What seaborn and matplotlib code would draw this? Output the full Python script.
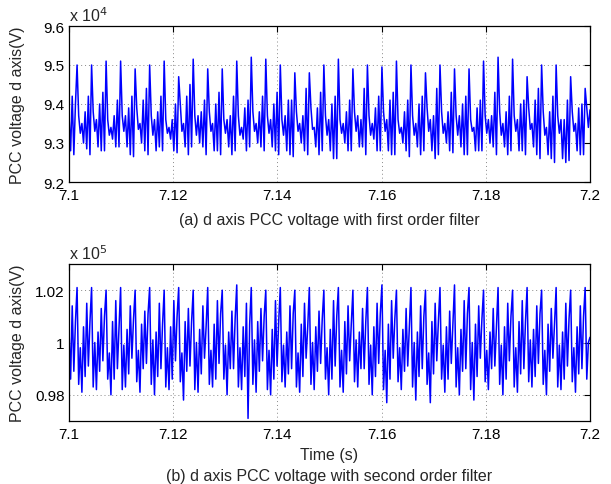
import numpy as np
import matplotlib
matplotlib.use("Agg")
import matplotlib.pyplot as plt
import seaborn as sns
from matplotlib.ticker import FuncFormatter, FixedLocator

# ---------------- data ----------------
# top panel: d-axis PCC voltage, first order filter (units of 1e4 V)
# each list holds one value per 360 Hz ripple cycle, in the order the
# waveform visits them within the cycle
top_head   = [9.37, 9.28, 9.42, 9.27, 9.40]
top_peak   = [9.50, 9.50, 9.51, 9.51, 9.49, 9.50, 9.51, 9.47, 9.515, 9.49, 9.49, 9.51,
              9.52, 9.515, 9.50, 9.48, 9.48, 9.50, 9.515, 9.49, 9.50, 9.495, 9.51, 9.50,
              9.48, 9.50, 9.49, 9.49, 9.51, 9.52, 9.515, 9.47, 9.50, 9.50, 9.47, 9.44]
top_fall   = [9.37, 9.38, 9.36, 9.37, 9.39, 9.37, 9.36, 9.40, 9.37, 9.38, 9.36, 9.37,
              9.38, 9.37, 9.36, 9.38, 9.39, 9.37, 9.36, 9.38, 9.37, 9.38, 9.36, 9.37,
              9.39, 9.38, 9.37, 9.36, 9.37, 9.38, 9.37, 9.39, 9.38, 9.37, 9.38, 9.39]
top_valley = [9.325, 9.33, 9.32, 9.33, 9.335, 9.32, 9.325, 9.33, 9.32, 9.33, 9.325, 9.32,
              9.33, 9.325, 9.32, 9.33, 9.335, 9.32, 9.325, 9.33, 9.32, 9.33, 9.325, 9.32,
              9.33, 9.325, 9.32, 9.33, 9.325, 9.32, 9.33, 9.335, 9.32, 9.325, 9.33, 9.34]
top_bump   = [9.35, 9.36, 9.34, 9.37, 9.35, 9.36, 9.34, 9.35, 9.37, 9.35, 9.36, 9.34,
              9.35, 9.36, 9.37, 9.35, 9.34, 9.36, 9.35, 9.37, 9.35, 9.36, 9.34, 9.35,
              9.36, 9.35, 9.37, 9.34, 9.36, 9.35, 9.36, 9.35, 9.34, 9.36, 9.35, 9.385]
top_dipA   = [9.30, 9.29, 9.31, 9.29, 9.30, 9.28, 9.31, 9.29, 9.30, 9.28, 9.29, 9.31,
              9.30, 9.29, 9.28, 9.30, 9.29, 9.28, 9.30, 9.29, 9.31, 9.28, 9.30, 9.29,
              9.28, 9.30, 9.29, 9.28, 9.30, 9.29, 9.28, 9.29, 9.27, 9.26, 9.28, 9.30]
top_riseA  = [9.38, 9.40, 9.37, 9.39, 9.41, 9.38, 9.36, 9.42, 9.38, 9.40, 9.37, 9.39,
              9.38, 9.40, 9.41, 9.37, 9.39, 9.40, 9.38, 9.36, 9.39, 9.41, 9.38, 9.40,
              9.37, 9.38, 9.40, 9.39, 9.37, 9.38, 9.40, 9.41, 9.38, 9.36, 9.39, 9.38]
top_dipB   = [9.285, 9.28, 9.29, 9.27, 9.28, 9.29, 9.28, 9.27, 9.29, 9.28, 9.27, 9.28,
              9.29, 9.28, 9.27, 9.28, 9.27, 9.26, 9.28, 9.29, 9.28, 9.27, 9.28, 9.27,
              9.26, 9.28, 9.27, 9.28, 9.29, 9.27, 9.28, 9.27, 9.26, 9.25, 9.27, 9.28]
top_riseB  = [9.42, 9.43, 9.41, 9.42, 9.44, 9.42, 9.40, 9.45, 9.41, 9.43, 9.42, 9.41,
              9.42, 9.43, 9.41, 9.44, 9.43, 9.42, 9.41, 9.44, 9.42, 9.43, 9.41, 9.42,
              9.44, 9.43, 9.42, 9.41, 9.43, 9.42, 9.41, 9.44, 9.42, 9.41, 9.40, 9.42]
top_dipC   = [9.27, 9.28, 9.29, 9.265, 9.27, 9.28, 9.275, 9.29, 9.27, 9.27, 9.28, 9.29,
              9.28, 9.27, 9.265, 9.27, 9.28, 9.26, 9.28, 9.27, 9.28, 9.27, 9.265, 9.28,
              9.27, 9.275, 9.27, 9.28, 9.27, 9.28, 9.27, 9.26, 9.25, 9.255, 9.27, 9.28]

# bottom panel: d-axis PCC voltage, second order filter (units of 1e5 V)
bot_head = [1.005, 0.986, 1.014, 0.989, 1.008]
bot_peak = [1.021, 1.021, 1.020, 1.021, 1.020, 1.021, 1.020, 1.021, 1.020, 1.021, 1.020, 1.022,
            1.021, 1.020, 1.021, 1.020, 1.021, 1.020, 1.021, 1.020, 1.021, 1.022, 1.020, 1.021,
            1.020, 1.021, 1.022, 1.021, 1.020, 1.021, 1.020, 1.021, 1.020, 1.021, 1.020, 1.021]
bot_d1 = [0.984, 0.983, 0.986, 0.982, 0.985, 0.984, 0.983, 0.985, 0.982, 0.984, 0.986, 0.983,
          0.984, 0.982, 0.985, 0.983, 0.984, 0.986, 0.983, 0.985, 0.984, 0.982, 0.985, 0.983,
          0.984, 0.986, 0.983, 0.982, 0.985, 0.984, 0.983, 0.985, 0.984, 0.983, 0.985, 0.986]
bot_u1 = [0.998, 1.000, 0.996, 0.999, 0.997, 1.001, 0.998, 0.996, 1.000, 0.997, 0.999, 0.998,
          1.001, 0.997, 0.999, 0.996, 1.000, 0.998, 0.997, 1.001, 0.999, 0.997, 0.998, 1.000,
          0.996, 0.999, 0.998, 1.000, 0.997, 0.999, 0.998, 1.001, 0.997, 0.999, 0.998, 1.000]
bot_d2 = [0.981, 0.982, 0.980, 0.983, 0.981, 0.980, 0.982, 0.978, 0.981, 0.983, 0.980, 0.982,
          0.981, 0.980, 0.983, 0.981, 0.982, 0.980, 0.981, 0.983, 0.980, 0.977, 0.982, 0.978,
          0.977, 0.981, 0.980, 0.978, 0.982, 0.980, 0.981, 0.983, 0.980, 0.982, 0.981, 1.002]
bot_u2 = [1.006, 1.004, 1.008, 1.005, 1.007, 1.004, 1.006, 1.008, 1.005, 1.007, 1.004, 1.006,
          1.008, 1.005, 1.004, 1.007, 1.006, 1.005, 1.008, 1.004, 1.006, 1.007, 1.005, 1.004,
          1.008, 1.006, 1.005, 1.007, 1.004, 1.006, 1.008, 1.005, 1.007, 1.004, 1.006, 1.005]
bot_d3 = [0.987, 0.989, 0.986, 0.988, 0.990, 0.987, 0.986, 0.989, 0.988, 0.986, 0.990, 0.987,
          0.989, 0.986, 0.988, 0.987, 0.989, 0.986, 0.988, 0.990, 0.987, 0.986, 0.989, 0.987,
          0.988, 0.986, 0.989, 0.987, 0.990, 0.986, 0.988, 0.987, 0.989, 0.986, 0.988, 0.987]
bot_u3 = [1.015, 1.013, 1.016, 1.014, 1.012, 1.015, 1.016, 1.013, 1.014, 1.016, 1.012, 1.015,
          1.013, 1.016, 1.014, 1.015, 1.012, 1.016, 1.014, 1.013, 1.015, 1.016, 1.013, 1.014,
          1.015, 1.012, 1.016, 1.014, 1.013, 1.015, 1.016, 1.014, 1.013, 1.015, 1.014, 1.015]
bot_d4 = [0.991, 0.993, 0.990, 0.994, 0.992, 0.990, 0.993, 0.991, 0.994, 0.992, 0.990, 0.971,
          0.993, 0.991, 0.990, 0.994, 0.992, 0.991, 0.993, 0.990, 0.992, 0.994, 0.991, 0.990,
          0.993, 0.992, 0.990, 0.994, 0.991, 0.993, 0.990, 0.992, 0.994, 0.991, 0.990, 0.992]
bot_u4 = [1.008, 1.010, 1.006, 1.009, 1.011, 1.007, 1.010, 1.008, 1.006, 1.011, 1.009, 1.007,
          1.010, 1.008, 1.011, 1.006, 1.009, 1.010, 1.007, 1.008, 1.011, 1.009, 1.006, 1.010,
          1.008, 1.007, 1.011, 1.009, 1.006, 1.010, 1.008, 1.011, 1.007, 1.009, 1.010, 1.008]

t_start, t_end = 7.1, 7.2
x_ticks = [7.1, 7.12, 7.14, 7.16, 7.18, 7.2]
top_yticks = [9.2, 9.3, 9.4, 9.5, 9.6]
bot_yticks = [0.98, 1.0, 1.02]
ylabel = "PCC voltage d axis(V)"
caption_a = "(a) d axis PCC voltage with first order filter"
caption_b = "(b) d axis PCC voltage with second order filter"
xlabel_b = "Time (s)"
LAST_N = 4  # values kept from the final (cut-off) cycle


def build(head, arrays):
    m = np.column_stack(arrays)
    flat = m.ravel()
    n = (m.shape[0] - 1) * m.shape[1] + LAST_N
    return np.concatenate([head, flat[:n]])


top_v = build(top_head, [top_peak, top_fall, top_valley, top_bump, top_dipA,
                         top_riseA, top_dipB, top_riseB, top_dipC])
bot_v = build(bot_head, [bot_peak, bot_d1, bot_u1, bot_d2, bot_u2,
                         bot_d3, bot_u3, bot_d4, bot_u4])
top_t = np.linspace(t_start, t_end, len(top_v))
bot_t = np.linspace(t_start, t_end, len(bot_v))

# ---------------- figure ----------------
sns.set_style("white")
plt.rcParams["font.family"] = ["Liberation Sans", "DejaVu Sans"]
TICK_FS = 11
LAB_FS = 11.5

fig = plt.figure(figsize=(6.11, 4.85), dpi=100)
ax1 = fig.add_axes([69 / 611, 1 - 183 / 485, 521 / 611, 156 / 485])
ax2 = fig.add_axes([69 / 611, 1 - 422 / 485, 521 / 611, 157 / 485])

fmt = FuncFormatter(lambda v, p: ("%g" % round(v, 4)))

sns.lineplot(x=top_t, y=top_v, ax=ax1, color="#0000ff", linewidth=1.1,
             estimator=None, sort=False)
sns.lineplot(x=bot_t, y=bot_v, ax=ax2, color="#0000ff", linewidth=1.1,
             estimator=None, sort=False)

for ax, yt, ylim in [(ax1, top_yticks, (9.2, 9.6)), (ax2, bot_yticks, (0.97, 1.03))]:
    ax.set_xlim(t_start, t_end)
    ax.set_ylim(*ylim)
    ax.xaxis.set_major_locator(FixedLocator(x_ticks))
    ax.yaxis.set_major_locator(FixedLocator(yt))
    ax.xaxis.set_major_formatter(fmt)
    ax.yaxis.set_major_formatter(fmt)
    ax.tick_params(direction="in", top=True, right=True, length=4, width=0.8,
                   labelsize=TICK_FS, colors="black")
    ax.tick_params(axis="x", pad=4)
    ax.tick_params(axis="y", pad=3)
    ax.grid(True, linestyle=(0, (1, 3)), color="#888888", linewidth=0.7)
    for s in ax.spines.values():
        s.set_visible(True)
        s.set_color("black")
        s.set_linewidth(0.9)
    ax.set_ylabel(ylabel, fontsize=LAB_FS)
    ax.yaxis.set_label_coords(-0.085, 0.5)
    ax.set_xlabel("")

ax2.set_xlabel(xlabel_b, fontsize=LAB_FS, labelpad=5)

fig.text(69 / 611, 1 - 16 / 485, r"x 10$^{4}$", fontsize=LAB_FS, ha="left", va="center")
fig.text(69 / 611, 1 - 254 / 485, r"x 10$^{5}$", fontsize=LAB_FS, ha="left", va="center")
fig.text(329.5 / 611, 1 - 221 / 485, caption_a, fontsize=LAB_FS, ha="center", va="center")
fig.text(329.5 / 611, 1 - 477 / 485, caption_b, fontsize=LAB_FS, ha="center", va="center")

fig.savefig("out.png", dpi=100)
